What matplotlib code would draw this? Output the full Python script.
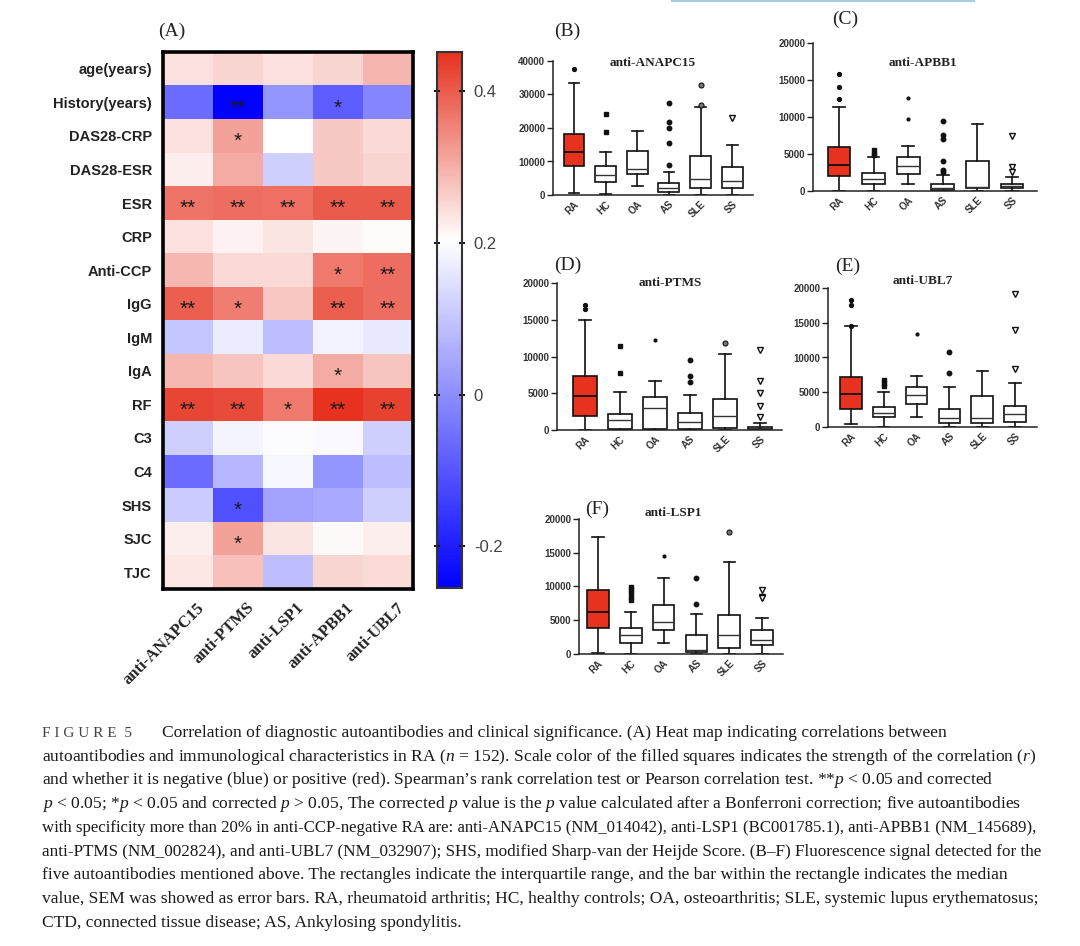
import matplotlib
matplotlib.use('Agg')
import matplotlib.pyplot as plt
import numpy as np
from matplotlib.colors import LinearSegmentedColormap, Normalize
from matplotlib.transforms import ScaledTranslation
from matplotlib.lines import Line2D

plt.rcParams['mathtext.fontset'] = 'custom'
plt.rcParams['mathtext.rm'] = 'Liberation Serif'
plt.rcParams['mathtext.it'] = 'Liberation Serif:italic'

# ---------------- data ----------------
rows = ['age(years)', 'History(years)', 'DAS28-CRP', 'DAS28-ESR', 'ESR', 'CRP',
        'Anti-CCP', 'IgG', 'IgM', 'IgA', 'RF', 'C3', 'C4', 'SHS', 'SJC', 'TJC']
antibodies = ['anti-ANAPC15', 'anti-PTMS', 'anti-LSP1', 'anti-APBB1', 'anti-UBL7']

# correlation r
r_values = np.array([
    [0.240, 0.255, 0.240, 0.255, 0.293],
    [-0.060, -0.250, 0.013, -0.085, -0.014],
    [0.240, 0.316, 0.205, 0.268, 0.250],
    [0.225, 0.305, 0.120, 0.268, 0.255],
    [0.370, 0.380, 0.375, 0.400, 0.400],
    [0.240, 0.220, 0.235, 0.215, 0.208],
    [0.290, 0.250, 0.248, 0.365, 0.378],
    [0.395, 0.360, 0.272, 0.395, 0.378],
    [0.100, 0.173, 0.085, 0.180, 0.165],
    [0.290, 0.275, 0.248, 0.305, 0.275],
    [0.427, 0.420, 0.365, 0.450, 0.430],
    [0.120, 0.185, 0.200, 0.195, 0.120],
    [-0.060, 0.075, 0.190, 0.013, 0.085],
    [0.110, -0.110, 0.040, 0.050, 0.120],
    [0.225, 0.315, 0.235, 0.210, 0.225],
    [0.232, 0.280, 0.085, 0.255, 0.245],
])

signif = [
    ['', '', '', '', ''],
    ['', '**', '', '*', ''],
    ['', '*', '', '', ''],
    ['', '', '', '', ''],
    ['**', '**', '**', '**', '**'],
    ['', '', '', '', ''],
    ['', '', '', '*', '**'],
    ['**', '*', '', '**', '**'],
    ['', '', '', '', ''],
    ['', '', '', '*', ''],
    ['**', '**', '*', '**', '**'],
    ['', '', '', '', ''],
    ['', '', '', '', ''],
    ['', '*', '', '', ''],
    ['', '*', '', '', ''],
    ['', '', '', '', ''],
]

groups = ['RA', 'HC', 'OA', 'AS', 'SLE', 'SS']

# box stats per group: low whisker, q1, median, q3, high whisker
anapc15_box = [[500, 8800, 12700, 18200, 33300], [200, 3800, 6000, 8800, 12900],
               [2700, 6300, 7700, 13100, 19100], [0, 800, 2000, 3700, 6800],
               [0, 2000, 4700, 11600, 26400], [0, 2000, 4200, 8500, 15000]]
anapc15_out = [[37600], [18700, 24200], [], [27400, 21700, 19900, 15600, 9000],
               [32800, 26800], [23000]]

apbb1_box = [[50, 2000, 3500, 5900, 11400], [0, 1000, 1600, 2400, 4650],
             [1000, 2300, 3400, 4550, 6100], [0, 150, 360, 900, 2200],
             [0, 350, 500, 4000, 9000], [0, 350, 700, 1000, 1950]]
apbb1_out = [[15800, 14100, 12400], [5550, 5000, 4900], [12500, 9700],
             [9500, 7500, 7000, 4000, 2850, 2500], [], [7450, 3300, 2500]]

ptms_box = [[0, 1950, 4600, 7400, 14900], [0, 150, 1350, 2200, 5200],
            [0, 100, 3000, 4500, 6700], [0, 150, 1050, 2300, 4800],
            [0, 300, 1900, 4200, 10400], [0, 100, 200, 450, 900]]
ptms_out = [[17000, 16400], [11400, 7700], [12300], [9500, 7300, 6500],
            [11800], [10900, 6600, 5100, 3200, 1800]]

ubl7_box = [[500, 2550, 4700, 7200, 14500], [0, 1450, 2000, 2900, 5000],
            [1500, 3350, 4550, 5750, 7300], [0, 600, 1350, 2650, 5750],
            [0, 600, 1350, 4400, 8050], [0, 700, 1900, 3000, 6400]]
ubl7_out = [[18300, 17500, 14500], [6700, 6300, 5900], [13400], [10800, 7800],
            [], [19100, 14000, 8400]]

lsp1_box = [[150, 3850, 6200, 9500, 17400], [0, 1600, 2750, 3850, 6200],
            [1600, 3600, 4750, 7200, 11200], [0, 300, 550, 2850, 5900],
            [0, 900, 2750, 5800, 13600], [0, 1400, 2100, 3600, 5350]]
lsp1_out = [[], [9900, 9500, 9000, 8500, 8000], [14500], [11300, 7400],
            [18100], [9500, 8500, 8300]]

# ---------------- figure ----------------
W, H = 1080, 946
fig = plt.figure(figsize=(W / 100, H / 100), dpi=100)


def px_axes(l, t, r, b):
    return fig.add_axes([l / W, 1 - b / H, (r - l) / W, (b - t) / H])


def px_text(x, y, s, **kw):
    return fig.text(x / W, 1 - y / H, s, **kw)


# light blue rule at the top edge (page artefact)
fig.add_artist(Line2D([672 / W, 974 / W], [0.999, 0.999], color='#a9cbe0', lw=1.5))

# ---------------- (A) heatmap ----------------
cmap = LinearSegmentedColormap.from_list(
    'rb', [(0.0, '#0000ff'), (0.65, '#ffffff'), (1.0, '#e6321f')])
norm = Normalize(vmin=-0.255, vmax=0.452)

ax = px_axes(163, 52, 413, 589)
im = ax.imshow(r_values, cmap=cmap, norm=norm, aspect='auto', interpolation='nearest')
for i in range(len(rows)):
    for j in range(len(antibodies)):
        if signif[i][j]:
            ax.text(j, i + 0.33, signif[i][j], ha='center', va='baseline',
                    fontsize=15, family='Liberation Sans', color='#1a1a1a')
ax.set_yticks(range(len(rows)))
ax.set_yticklabels(rows, fontsize=10.5, fontweight='bold', family='Liberation Sans',
                   color='#222222')
ax.set_xticks(range(len(antibodies)))
ax.set_xticklabels(antibodies, rotation=45, ha='right', va='top', rotation_mode='anchor',
                   fontsize=12, fontweight='bold', family='Liberation Serif',
                   color='#222222')
ax.tick_params(axis='both', length=0)
ax.tick_params(axis='y', pad=8)
ax.tick_params(axis='x', pad=2)
off = ScaledTranslation(8 / 100, -8 / 100, fig.dpi_scale_trans)
for lab in ax.get_xticklabels():
    lab.set_transform(lab.get_transform() + off)
for sp in ax.spines.values():
    sp.set_linewidth(2.6)
    sp.set_color('black')

cax = px_axes(437, 52, 462, 588)
cb = fig.colorbar(im, cax=cax)
cb.set_ticks([-0.2, 0, 0.2, 0.4])
cb.set_ticklabels(['-0.2', '0', '0.2', '0.4'])
cb.outline.set_linewidth(1.5)
cb.outline.set_edgecolor('#333333')
cax.tick_params(axis='y', left=True, right=True, direction='inout', length=5, width=1.3,
                labelsize=12, labelcolor='#444444', pad=6)
for lab in cax.get_yticklabels():
    lab.set_family('Liberation Sans')

px_text(172, 31, '(A)', fontsize=14, family='Liberation Serif', ha='center', va='center',
        color='#222222')


# ---------------- (B)-(F) box plots ----------------
def box_panel(rect, xlim, box, outliers, ymax, step, title, title_xy, letter, letter_xy):
    bx = px_axes(*rect)
    stats = []
    for g, b in zip(groups, box):
        stats.append(dict(label=g, whislo=b[0], q1=b[1], med=b[2], q3=b[3], whishi=b[4]))
    art = bx.bxp(stats, positions=range(1, 7), widths=0.66, patch_artist=True,
                 showfliers=False,
                 boxprops=dict(linewidth=1.2, edgecolor='#111111'),
                 whiskerprops=dict(linewidth=1.2, color='#111111'),
                 capprops=dict(linewidth=1.2, color='#111111'),
                 medianprops=dict(linewidth=1.0, color='#333333'),
                 capwidths=0.34)
    for k, patch in enumerate(art['boxes']):
        patch.set_facecolor('#e6321f' if k == 0 else 'white')
    art['medians'][0].set_color('#111111')
    art['medians'][0].set_linewidth(1.3)

    styles = [dict(marker='o', ms=2.8, mfc='#111111', mec='#111111'),
              dict(marker='s', ms=2.8, mfc='#111111', mec='#111111'),
              dict(marker='o', ms=2.0, mfc='#111111', mec='#111111'),
              dict(marker='o', ms=3.2, mfc='#111111', mec='#111111'),
              dict(marker='o', ms=3.6, mfc='#777777', mec='#111111', mew=0.8),
              dict(marker='v', ms=5.0, mfc='white', mec='#111111', mew=1.0)]
    for k, vals in enumerate(outliers):
        if vals:
            bx.plot([k + 1] * len(vals), vals, ls='none', **styles[k])

    bx.set_xlim(*xlim)
    bx.set_ylim(0, ymax)
    bx.set_yticks(np.arange(0, ymax + 1, step))
    bx.set_yticklabels([str(int(v)) for v in np.arange(0, ymax + 1, step)])
    bx.set_xticks(range(1, 7))
    bx.set_xticklabels(groups, rotation=45, ha='right', va='top', rotation_mode='anchor')
    for lab in bx.get_xticklabels() + bx.get_yticklabels():
        lab.set_family('Liberation Sans')
        lab.set_fontweight('bold')
        lab.set_fontsize(7)
        lab.set_color('#333333')
    bx.tick_params(axis='y', length=4, width=1.0, pad=1.5, color='#222222')
    bx.tick_params(axis='x', length=0, pad=3)
    for sp in ['top', 'right']:
        bx.spines[sp].set_visible(False)
    for sp in ['left', 'bottom']:
        bx.spines[sp].set_linewidth(1.1)
        bx.spines[sp].set_color('#222222')
    px_text(*title_xy, title, fontsize=9.5, fontweight='bold', family='Liberation Serif',
            ha='center', va='center', color='#222222')
    px_text(*letter_xy, letter, fontsize=14, family='Liberation Serif',
            ha='center', va='center', color='#222222')


box_panel((553, 61, 753, 195), (0.335, 6.66), anapc15_box, anapc15_out, 40000, 10000,
          'anti-ANAPC15', (653, 63), '(B)', (567, 31))
box_panel((813, 43, 1037, 191), (0.25, 6.72), apbb1_box, apbb1_out, 20000, 5000,
          'anti-APBB1', (923, 63), '(C)', (845, 19))
box_panel((557, 283, 782, 430), (0.2, 6.63), ptms_box, ptms_out, 20000, 5000,
          'anti-PTMS', (670, 283), '(D)', (568, 265))
box_panel((828, 288, 1037, 427), (0.3, 6.67), ubl7_box, ubl7_out, 20000, 5000,
          'anti-UBL7', (923, 281), '(E)', (848, 266))
box_panel((579, 519, 783, 654), (0.42, 6.64), lsp1_box, lsp1_out, 20000, 5000,
          'anti-LSP1', (673, 513), '(F)', (597, 509))

# ---------------- caption ----------------
caption = [
    "Correlation of diagnostic autoantibodies and clinical significance. (A) Heat map indicating correlations between",
    "autoantibodies and immunological characteristics in RA ($n$ = 152). Scale color of the filled squares indicates the strength of the correlation ($r$)",
    "and whether it is negative (blue) or positive (red). Spearman\u2019s rank correlation test or Pearson correlation test. **$p$ < 0.05 and corrected",
    "$p$ < 0.05; *$p$ < 0.05 and corrected $p$ > 0.05, The corrected $p$ value is the $p$ value calculated after a Bonferroni correction; five autoantibodies",
    "with specificity more than 20% in anti-CCP-negative RA are: anti-ANAPC15 (NM_014042), anti-LSP1 (BC001785.1), anti-APBB1 (NM_145689),",
    "anti-PTMS (NM_002824), and anti-UBL7 (NM_032907); SHS, modified Sharp-van der Heijde Score. (B\u2013F) Fluorescence signal detected for the",
    "five autoantibodies mentioned above. The rectangles indicate the interquartile range, and the bar within the rectangle indicates the median",
    "value, SEM was showed as error bars. RA, rheumatoid arthritis; HC, healthy controls; OA, osteoarthritis; SLE, systemic lupus erythematosus;",
    "CTD, connected tissue disease; AS, Ankylosing spondylitis.",
]
px_text(42, 733, 'F I G U R E  5', fontsize=11, family='Liberation Serif',
        color='#444444', va='center')
renderer = fig.canvas.get_renderer()
right_edge = 1040
for k, line in enumerate(caption):
    x0 = 162 if k == 0 else 42
    fs = 12.6
    t = px_text(x0, 733 + k * 23.7, line, fontsize=fs, family='Liberation Serif',
                color='#1a1a1a', va='center')
    bb = t.get_window_extent(renderer)
    if bb.x1 > right_edge:
        t.set_fontsize(fs * (right_edge - x0) / (bb.x1 - x0))

fig.savefig('out.png', dpi=100)
